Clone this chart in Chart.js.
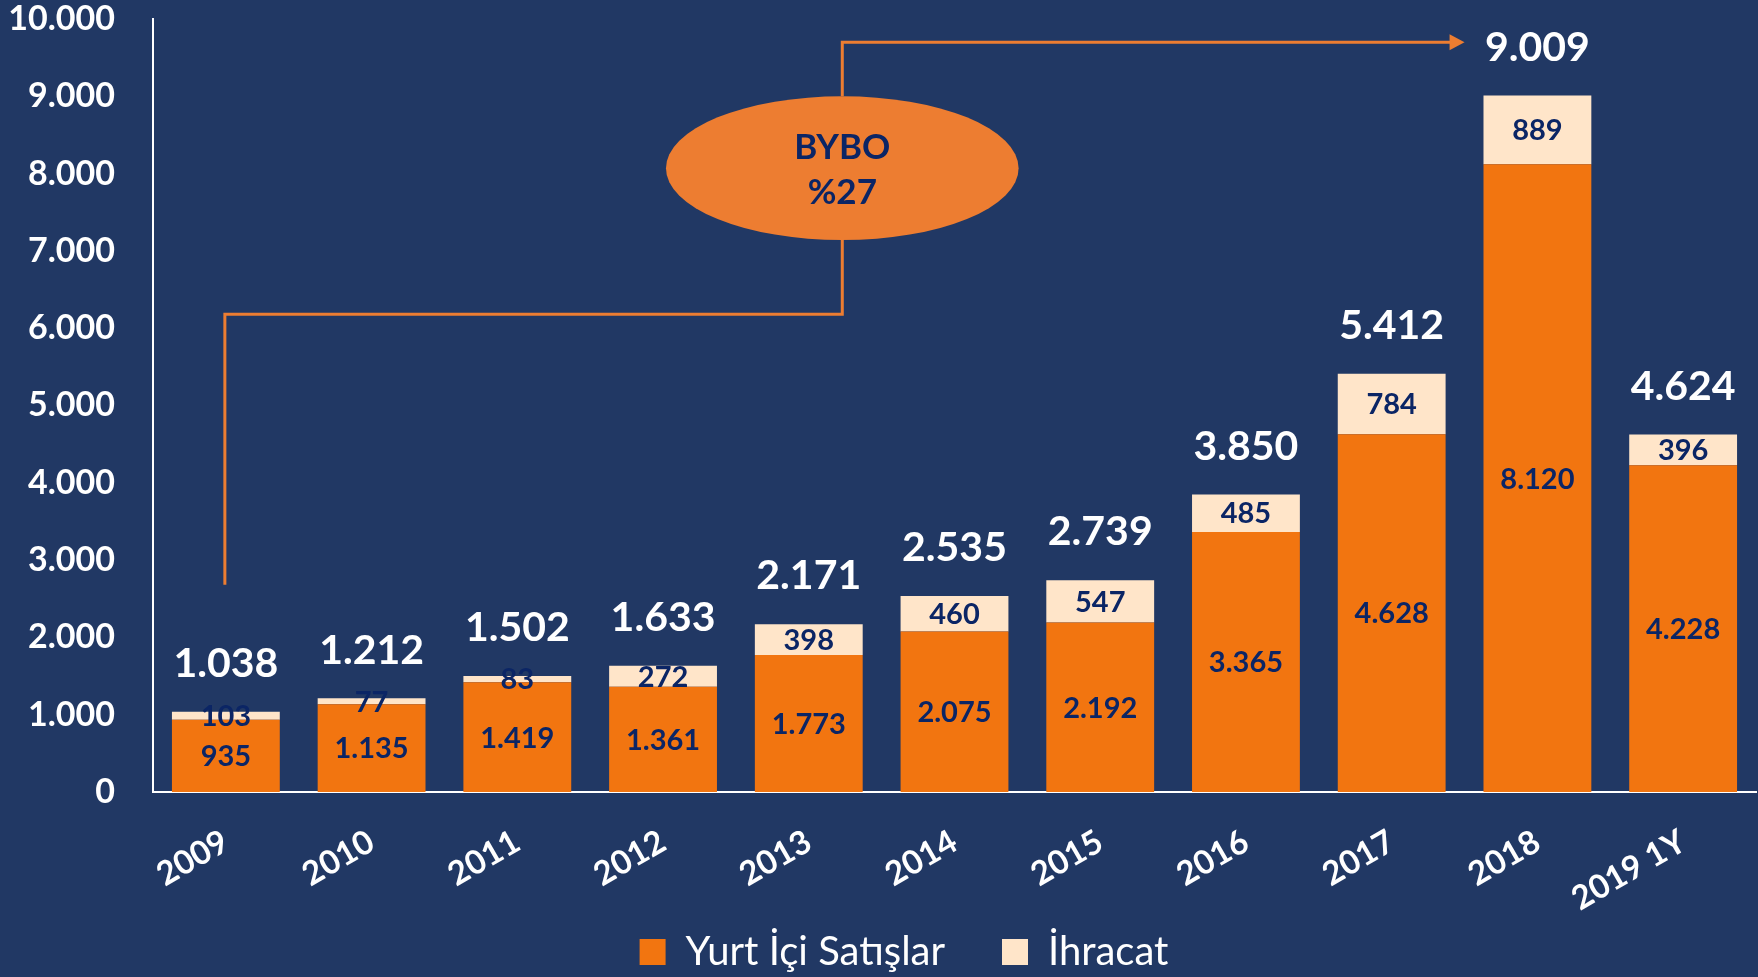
<!DOCTYPE html>
<html>
<head>
<meta charset="utf-8">
<script src="https://cdn.jsdelivr.net/npm/chart.js@4"></script>
<style>
  html, body { margin: 0; padding: 0; background: #213864; }
  #wrap { width: 1758px; height: 977px; }
</style>
</head>
<body>
<div id="wrap"><canvas id="sales"></canvas></div>
<script>
const years = ['2009', '2010', '2011', '2012', '2013', '2014', '2015', '2016', '2017', '2018', '2019 1Y'];
const domestic = [935, 1135, 1419, 1361, 1773, 2075, 2192, 3365, 4628, 8120, 4228];
const exports = [103, 77, 83, 272, 398, 460, 547, 485, 784, 889, 396];
const totals = [1038, 1212, 1502, 1633, 2171, 2535, 2739, 3850, 5412, 9009, 4624];

const NAVY = '#0b2565';
const fmt = (v) => v.toLocaleString('de-DE');

// labels inside the segments and totals above the bars
const barLabels = {
    id: 'barLabels',
    afterDatasetsDraw(chart) {
        const c = chart.ctx;
        c.save();
        c.textAlign = 'center';
        c.textBaseline = 'middle';
        c.fillStyle = NAVY;
        c.font = 'bold 29px Lato';
        chart.data.datasets.forEach((ds, i) => {
            chart.getDatasetMeta(i).data.forEach((bar, j) => {
                c.fillText(fmt(ds.data[j]), bar.x, (bar.y + bar.base) / 2 + 1);
            });
        });
        const top = chart.getDatasetMeta(1).data;
        c.fillStyle = '#ffffff';
        c.font = 'bold 41px Lato';
        top.forEach((bar, j) => {
            c.fillText(fmt(totals[j]), bar.x, bar.y - 48);
        });
        c.restore();
    }
};

// BYBO callout: orange connector, arrow and ellipse
const bybo = {
    id: 'bybo',
    afterLayout(chart) {
        // legend sits a little right of centre in the original
        chart.legend.left += 26;
        chart.legend.right += 26;
    },
    afterDraw(chart) {
        const x = chart.scales.x, y = chart.scales.y;
        const c = chart.ctx;
        const step = x.getPixelForValue(1) - x.getPixelForValue(0);
        const cx = x.getPixelForValue(4.23);
        const cy = y.getPixelForValue(8070);
        const rx = step * 1.21;
        const ry = y.getPixelForValue(0) - y.getPixelForValue(930);
        const sx = x.getPixelForValue(0) - 1;
        const midY = y.getPixelForValue(6180);
        const topY = y.getPixelForValue(9700);
        const endX = x.getPixelForValue(8.5);
        c.save();
        c.strokeStyle = '#ed7d31';
        c.fillStyle = '#ed7d31';
        c.lineWidth = 3;
        c.beginPath();
        c.moveTo(sx, y.getPixelForValue(2680));
        c.lineTo(sx, midY);
        c.lineTo(cx, midY);
        c.lineTo(cx, cy + ry);
        c.moveTo(cx, cy - ry);
        c.lineTo(cx, topY);
        c.lineTo(endX - 12, topY);
        c.stroke();
        c.beginPath();
        c.moveTo(endX, topY);
        c.lineTo(endX - 15, topY - 8);
        c.lineTo(endX - 15, topY + 8);
        c.closePath();
        c.fill();
        c.beginPath();
        c.ellipse(cx, cy, rx, ry, 0, 0, Math.PI * 2);
        c.fill();
        c.fillStyle = NAVY;
        c.textAlign = 'center';
        c.textBaseline = 'middle';
        c.font = 'bold 35px Lato';
        c.fillText('BYBO', cx, cy - 20);
        c.fillText('%27', cx, cy + 25);
        c.restore();
    }
};

new Chart(document.getElementById('sales'), {
    type: 'bar',
    data: {
        labels: years,
        datasets: [{
            label: 'Yurt İçi Satışlar',
            data: domestic,
            backgroundColor: '#f27510'
        }, {
            label: 'İhracat',
            data: exports,
            backgroundColor: '#ffe5c9'
        }]
    },
    options: {
        responsive: true,
        maintainAspectRatio: false,
        animation: false,
        barPercentage: 0.74,
        categoryPercentage: 1,
        layout: {
            padding: { top: 19, right: 2, bottom: -5 }
        },
        plugins: {
            tooltip: { enabled: false },
            legend: {
                position: 'bottom',
                labels: {
                    color: '#ffffff',
                    font: { family: 'Lato', size: 40 },
                    boxWidth: 26,
                    boxHeight: 26,
                    padding: 16,
                    generateLabels: (chart) => {
                        const items = Chart.defaults.plugins.legend.labels.generateLabels(chart);
                        items[0].text = items[0].text + '    ';
                        return items;
                    }
                }
            }
        },
        scales: {
            x: {
                stacked: true,
                grid: { display: false },
                border: { color: '#ffffff', width: 2 },
                ticks: {
                    color: '#ffffff',
                    font: { family: 'Lato', size: 33, weight: 'bold' },
                    maxRotation: 30,
                    minRotation: 30,
                    padding: 22
                },
                afterFit: (s) => { s.height = 124; }
            },
            y: {
                stacked: true,
                min: 0,
                max: 10000,
                grid: { display: false },
                border: { color: '#ffffff', width: 2 },
                ticks: {
                    stepSize: 1000,
                    color: '#ffffff',
                    font: { family: 'Lato', size: 34, weight: 'bold' },
                    padding: 30,
                    callback: (v) => fmt(v)
                },
                afterFit: (s) => {
                    s.width = 153;
                    s.paddingTop = 0;
                    s.paddingBottom = 0;
                }
            }
        }
    },
    plugins: [barLabels, bybo]
});
</script>
</body>
</html>
